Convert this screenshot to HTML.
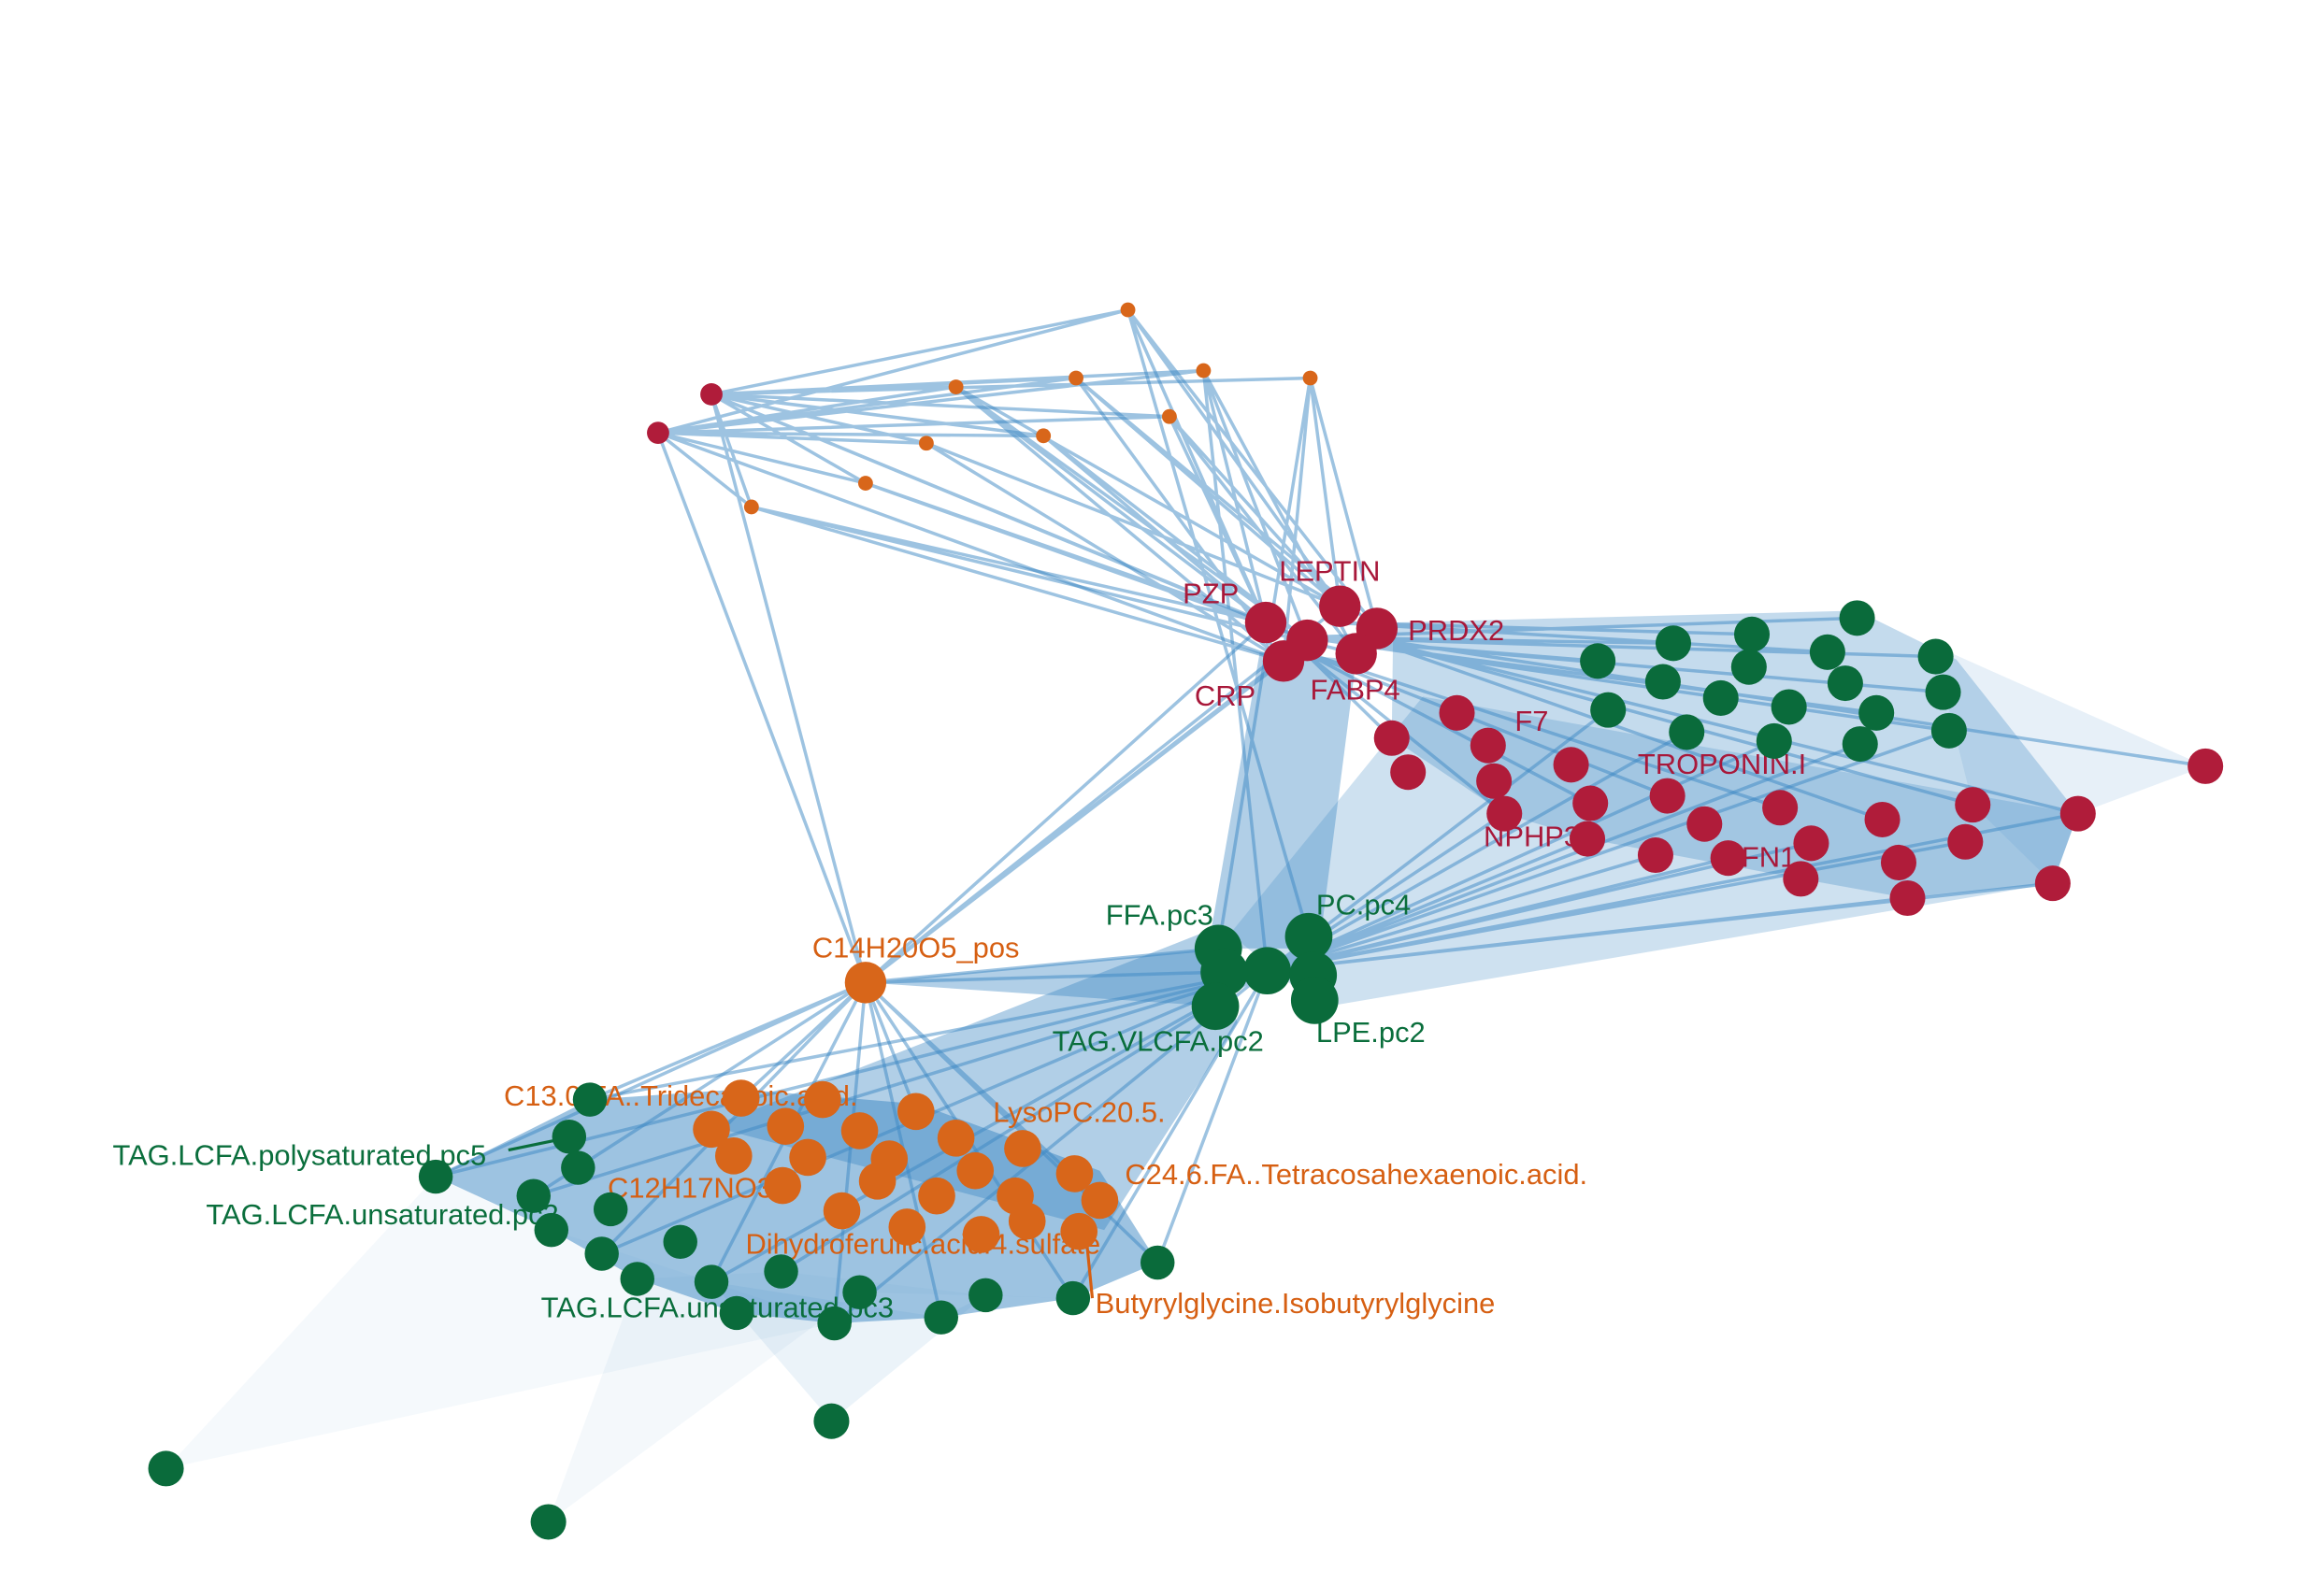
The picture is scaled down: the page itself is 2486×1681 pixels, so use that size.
<!DOCTYPE html>
<html><head><meta charset="utf-8"><style>
html,body{margin:0;padding:0;background:#fff;}
svg{display:block;}
text{font-family:"Liberation Sans",Arial,sans-serif;font-size:19.5px;}
</style></head><body>
<svg width="2486" height="1681" viewBox="0 0 1568 1060" xmlns="http://www.w3.org/2000/svg">
<g fill="rgb(60,135,195)" stroke="none">
<polygon points="112,991 294,794 372,830 480,865 563,893" fill-opacity="0.05"/>
<polygon points="370,1027 430,863 527,858 665,874 724,876 580,872" fill-opacity="0.06"/>
<polygon points="561,959 480,865 635,889 665,874" fill-opacity="0.1"/>
<polygon points="1488,517 1315,440 1306,443 1331,543 1385,596 1402,549" fill-opacity="0.12"/>
<polygon points="294,794 398,742 500,735 620,745 742,790 781,852 724,876 635,889 563,893 497,886 430,863 372,830" fill-opacity="0.5"/>
<polygon points="940,420 1253,412 1320,445 1402,549 1385,596 1287,606 1215,593 1071,566 1015,549 939,498" fill-opacity="0.3"/>
<polygon points="830,630 960,470 1402,549 1385,596 890,680" fill-opacity="0.25"/>
<polygon points="810,630 835,690 745,830 480,760" fill-opacity="0.4"/>
<polygon points="850,440 915,445 890,640 815,640" fill-opacity="0.4"/>
<polygon points="584,663 822,640 820,679" fill-opacity="0.4"/>
</g>
<g stroke="rgb(60,135,195)" stroke-opacity="0.5" stroke-width="2.2" fill="none">
<path d="M480,266L761,209M480,266L726,255M480,266L812,250M480,266L884,255M480,266L645,261M480,266L789,281M480,266L704,294M480,266L625,299M480,266L584,326M480,266L507,342M444,292L761,209M444,292L726,255M444,292L812,250M444,292L645,261M444,292L789,281M444,292L704,294M444,292L625,299M444,292L584,326M444,292L507,342M480,266L854,420M480,266L882,432M444,292L866,446M444,292L584,663M480,266L584,663"/>
<path d="M761,209L854,420M761,209L904,409M761,209L929,424M726,255L866,446M726,255L904,409M812,250L854,420M812,250L915,441M812,250L882,432M884,255L929,424M884,255L866,446M884,255L904,409M645,261L854,420M645,261L882,432M645,261L866,446M789,281L904,409M789,281L915,441M704,294L854,420M704,294L882,432M625,299L866,446M625,299L904,409M584,326L854,420M584,326L882,432M507,342L866,446M507,342L915,441M507,342L854,420M884,255L822,640M812,250L855,655M761,209L883,632M645,261L904,409M726,255L929,424M789,281L854,420"/>
<path d="M584,663L854,420M584,663L882,432M584,663L866,446M584,663L904,409M584,663L822,640M584,663L855,655M584,663L398,742M584,663L294,794M584,663L360,807M584,663L406,846M584,663L480,865M584,663L563,893M584,663L635,889M584,663L724,876M584,663L781,852M584,663L500,741M584,663L618,750M584,663L742,810"/>
<path d="M880,430L1253,417M880,430L1129,434M880,430L1306,443M880,430L1311,467M880,430L1315,493M880,430L1266,481M880,430L1078,446M900,420L1233,440M900,420L1182,428M920,430L1488,517M920,430L1402,549M920,430L1331,543M920,430L1270,553M880,440L1201,545M880,440L1125,537M880,440L1073,542M880,440L1015,549M880,440L939,498"/>
<path d="M855,655L1402,549M855,655L1385,596M855,655L1287,606M855,655L1326,568M855,655L1222,569M855,655L1166,579M855,655L1117,577M855,655L1071,566M855,655L1015,549M855,655L1255,502M855,655L1197,500M855,655L1138,494M855,655L1085,479M855,655L1315,493M855,655L294,794M855,655L398,742M855,655L360,807M855,655L406,846M855,655L480,865M855,655L563,893M855,655L724,876M855,655L781,852M855,655L527,858"/>
</g>
<g>
<text x="863" y="392" fill="#a8183a">LEPTIN</text>
<text x="798" y="407" fill="#a8183a">PZP</text>
<text x="950" y="432" fill="#a8183a">PRDX2</text>
<text x="806" y="476" fill="#a8183a">CRP</text>
<text x="884" y="472" fill="#a8183a">FABP4</text>
<text x="1022" y="493" fill="#a8183a">F7</text>
<text x="1105" y="522" fill="#a8183a">TROPONIN.I</text>
<text x="1001" y="571" fill="#a8183a">NPHP3</text>
<text x="1162" y="585" fill="#a8183a">PFN1</text>
<text x="746" y="624" fill="#0a6e3c">FFA.pc3</text>
<text x="888" y="617" fill="#0a6e3c">PC.pc4</text>
<text x="710" y="709" fill="#0a6e3c">TAG.VLCFA.pc2</text>
<text x="888" y="703" fill="#0a6e3c">LPE.pc2</text>
<text x="548" y="646" fill="#d65f12">C14H20O5_pos</text>
<text x="340" y="746" fill="#d65f12">C13.0.FA..Tridecanoic.acid.</text>
<text x="670" y="757" fill="#d65f12">LysoPC.20.5.</text>
<text x="410" y="808" fill="#d65f12">C12H17NO3</text>
<text x="759" y="799" fill="#d65f12">C24.6.FA..Tetracosahexaenoic.acid.</text>
<text x="503" y="846" fill="#d65f12">Dihydroferulic.acid.4.sulfate</text>
<text x="739" y="886" fill="#d65f12">Butyrylglycine.Isobutyrylglycine</text>
<text x="76" y="786" fill="#0a6e3c">TAG.LCFA.polysaturated.pc5</text>
<text x="139" y="826" fill="#0a6e3c">TAG.LCFA.unsaturated.pc2</text>
<text x="365" y="889" fill="#0a6e3c">TAG.LCFA.unsaturated.pc3</text>
<line x1="343" y1="776" x2="382" y2="768" stroke="#0a6e3c" stroke-width="2"/>
<line x1="733" y1="836" x2="737" y2="876" stroke="#d65f12" stroke-width="2"/>
</g>
<g stroke-width="0">
<g fill="#d8661a">
<circle cx="761" cy="209" r="5"/><circle cx="726" cy="255" r="5"/><circle cx="812" cy="250" r="5"/><circle cx="884" cy="255" r="5"/><circle cx="645" cy="261" r="5"/><circle cx="789" cy="281" r="5"/><circle cx="704" cy="294" r="5"/><circle cx="625" cy="299" r="5"/><circle cx="584" cy="326" r="5"/><circle cx="507" cy="342" r="5"/>
</g>
<g fill="#b01c3a">
<circle cx="480" cy="266" r="7.5"/><circle cx="444" cy="292" r="7.5"/>
<circle cx="854" cy="420" r="14"/><circle cx="904" cy="409" r="14"/><circle cx="929" cy="424" r="14"/><circle cx="882" cy="432" r="14"/><circle cx="866" cy="446" r="14"/><circle cx="915" cy="441" r="14"/>
<circle cx="983" cy="481" r="12"/><circle cx="939" cy="498" r="12"/><circle cx="1004" cy="503" r="12"/><circle cx="950" cy="521" r="12"/><circle cx="1060" cy="516" r="12"/><circle cx="1008" cy="527" r="12"/><circle cx="1015" cy="549" r="12"/><circle cx="1073" cy="542" r="12"/><circle cx="1071" cy="566" r="12"/><circle cx="1125" cy="537" r="12"/><circle cx="1150" cy="556" r="12"/><circle cx="1117" cy="577" r="12"/><circle cx="1166" cy="579" r="12"/><circle cx="1201" cy="545" r="12"/><circle cx="1222" cy="569" r="12"/><circle cx="1215" cy="593" r="12"/><circle cx="1270" cy="553" r="12"/><circle cx="1281" cy="582" r="12"/><circle cx="1287" cy="606" r="12"/><circle cx="1331" cy="543" r="12"/><circle cx="1326" cy="568" r="12"/><circle cx="1385" cy="596" r="12"/><circle cx="1402" cy="549" r="12"/><circle cx="1488" cy="517" r="12"/>
</g>
<g fill="#0a6b3b">
<circle cx="1253" cy="417" r="12"/><circle cx="1129" cy="434" r="12"/><circle cx="1182" cy="428" r="12"/><circle cx="1078" cy="446" r="12"/><circle cx="1122" cy="460" r="12"/><circle cx="1180" cy="450" r="12"/><circle cx="1233" cy="440" r="12"/><circle cx="1306" cy="443" r="12"/><circle cx="1161" cy="471" r="12"/><circle cx="1085" cy="479" r="12"/><circle cx="1207" cy="477" r="12"/><circle cx="1245" cy="461" r="12"/><circle cx="1311" cy="467" r="12"/><circle cx="1266" cy="481" r="12"/><circle cx="1138" cy="494" r="12"/><circle cx="1197" cy="500" r="12"/><circle cx="1255" cy="502" r="12"/><circle cx="1315" cy="493" r="12"/>
<circle cx="822" cy="640" r="16"/><circle cx="883" cy="632" r="16"/><circle cx="855" cy="655" r="16"/><circle cx="826" cy="656" r="16"/><circle cx="886" cy="658" r="16"/><circle cx="820" cy="679" r="16"/><circle cx="887" cy="675" r="16"/>
<circle cx="398" cy="742" r="11.5"/><circle cx="384" cy="767" r="11.5"/><circle cx="390" cy="788" r="11.5"/><circle cx="294" cy="794" r="11.5"/><circle cx="360" cy="807" r="11.5"/><circle cx="412" cy="816" r="11.5"/><circle cx="372" cy="830" r="11.5"/><circle cx="459" cy="838" r="11.5"/><circle cx="406" cy="846" r="11.5"/><circle cx="527" cy="858" r="11.5"/><circle cx="480" cy="865" r="11.5"/><circle cx="430" cy="863" r="11.5"/><circle cx="580" cy="872" r="11.5"/><circle cx="665" cy="874" r="11.5"/><circle cx="724" cy="876" r="11.5"/><circle cx="635" cy="889" r="11.5"/><circle cx="497" cy="886" r="11.5"/><circle cx="563" cy="893" r="11.5"/><circle cx="781" cy="852" r="11.5"/>
<circle cx="561" cy="959" r="12"/><circle cx="112" cy="991" r="12"/><circle cx="370" cy="1027" r="12"/>
</g>
<g fill="#d8661a">
<circle cx="584" cy="663" r="14"/>
<circle cx="500" cy="741" r="12.5"/><circle cx="555" cy="742" r="12.5"/><circle cx="618" cy="750" r="12.5"/><circle cx="480" cy="762" r="12.5"/><circle cx="530" cy="760" r="12.5"/><circle cx="580" cy="763" r="12.5"/><circle cx="645" cy="768" r="12.5"/><circle cx="690" cy="775" r="12.5"/><circle cx="545" cy="781" r="12.5"/><circle cx="600" cy="782" r="12.5"/><circle cx="495" cy="780" r="12.5"/><circle cx="658" cy="790" r="12.5"/><circle cx="725" cy="792" r="12.5"/><circle cx="528" cy="800" r="12.5"/><circle cx="592" cy="797" r="12.5"/><circle cx="685" cy="807" r="12.5"/><circle cx="742" cy="810" r="12.5"/><circle cx="632" cy="807" r="12.5"/><circle cx="568" cy="817" r="12.5"/><circle cx="612" cy="828" r="12.5"/><circle cx="662" cy="833" r="12.5"/><circle cx="693" cy="824" r="12.5"/><circle cx="728" cy="831" r="12.5"/>
</g>
</g>
</svg>
</body></html>
